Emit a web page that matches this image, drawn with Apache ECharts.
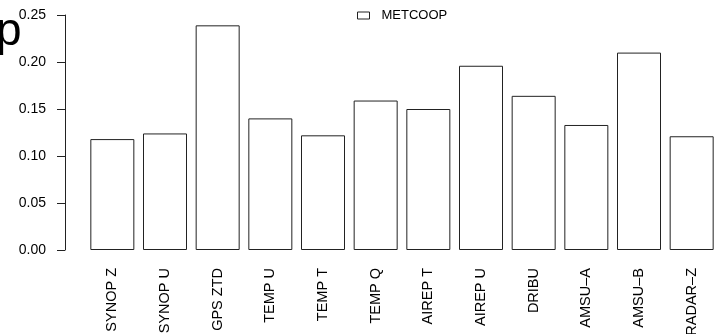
<!DOCTYPE html>
<html>
<head>
<meta charset="utf-8">
<script src="https://cdn.jsdelivr.net/npm/echarts@6/dist/echarts.min.js"></script>
<style>
html,body{margin:0;padding:0;background:#fff;}
#chart{width:715px;height:334px;}
</style>
</head>
<body>
<div id="chart"></div>
<script>
const categories = ['SYNOP Z','SYNOP U','GPS ZTD','TEMP U','TEMP T','TEMP Q','AIREP T','AIREP U','DRIBU','AMSU\u2013A','AMSU\u2013B','RADAR\u2013Z'];
const metcoop = [0.118, 0.124, 0.239, 0.140, 0.122, 0.159, 0.150, 0.196, 0.164, 0.133, 0.210, 0.121];
const seriesName = 'METCOOP';
const yTicks = [0, 0.05, 0.10, 0.15, 0.20, 0.25];

const font = '"Liberation Sans", Arial, Helvetica, sans-serif';
const chart = echarts.init(document.getElementById('chart'), null, {renderer:'canvas'});
chart.setOption({
  animation: false,
  backgroundColor: '#fff',
  grid: {left: 86, top: 15, width: 632, height: 235, containLabel: false, outerBoundsMode: 'none'},
  legend: {
    data: [seriesName],
    left: 357, top: 9, padding: 0,
    icon: 'rect',
    itemWidth: 12, itemHeight: 7,
    itemStyle: {color: '#fff', borderColor: '#222', borderWidth: 1},
    textStyle: {fontFamily: font, fontSize: 13, color: '#000', padding: [0,0,0,7]}
  },
  xAxis: {
    type: 'category',
    data: categories,
    axisLine: {show: false},
    axisTick: {show: false},
    axisLabel: {rotate: 90, margin: 18, fontFamily: font, fontSize: 14.5, color: '#000', interval: 0}
  },
  yAxis: {
    type: 'value',
    offset: 21,
    min: yTicks[0], max: yTicks[yTicks.length-1], interval: 0.05,
    splitLine: {show: false},
    axisLine: {show: true, lineStyle: {color: '#222', width: 1}},
    axisTick: {show: true, length: 8, lineStyle: {color: '#222', width: 1}},
    axisLabel: {margin: 19, fontFamily: font, fontSize: 14, color: '#000', formatter: v => v.toFixed(2)}
  },
  series: [{
    name: seriesName,
    type: 'bar',
    data: metcoop,
    barWidth: 44,
    itemStyle: {color: '#fff', borderColor: '#222', borderWidth: 1}
  }],
  graphic: [{
    type: 'text',
    left: -4, top: 9,
    style: {text: 'p', fontFamily: font, fontSize: 46, fill: '#000'}
  }]
});
</script>
</body>
</html>
